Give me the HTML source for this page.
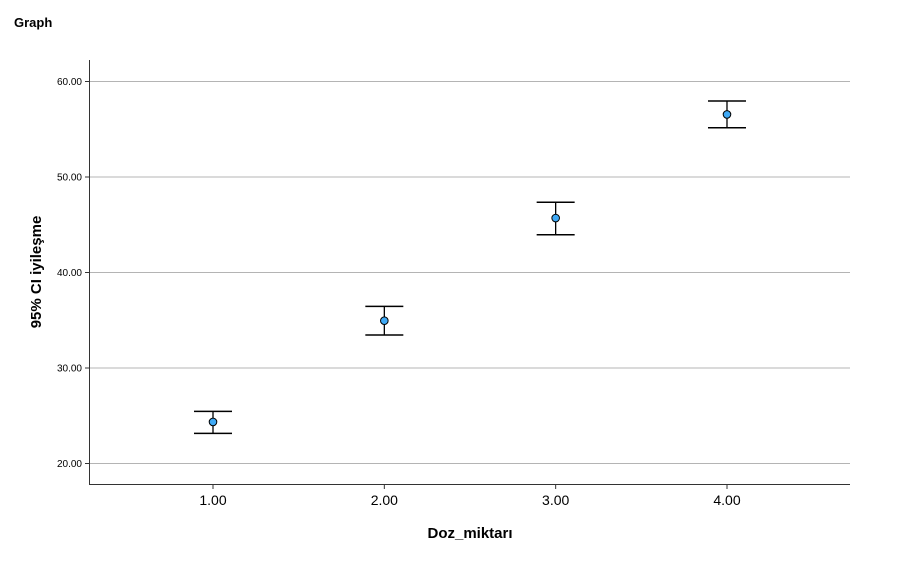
<!DOCTYPE html>
<html><head><meta charset="utf-8"><style>body{margin:0;background:#fff}svg{display:block;font-family:"Liberation Sans",sans-serif}</style></head>
<body>
<svg id="c" width="909" height="570">
<text x="14" y="27" font-size="13" font-weight="bold">Graph</text>
<g id="grid"></g><g id="marks"></g>
<line x1="89.5" y1="60" x2="89.5" y2="484.5" stroke="#333"/>
<line x1="89" y1="484.5" x2="850" y2="484.5" stroke="#333"/>
<text x="470" y="538" font-size="15" font-weight="bold" text-anchor="middle">Doz_miktarı</text>
<text transform="translate(41,272) rotate(-90)" font-size="15" font-weight="bold" text-anchor="middle">95% CI iyileşme</text>
</svg>
<script>
const categories=["1.00","2.00","3.00","4.00"];
const catValues=[1,2,3,4];
const means=[24.3,34.9,45.65,56.5];
const upper=[25.4,36.4,47.3,57.9];
const lower=[23.1,33.4,43.9,55.1];
const yTicks=[20,30,40,50,60];
const yLabels=["20.00","30.00","40.00","50.00","60.00"];
const NS="http://www.w3.org/2000/svg";
function x(v){return 213+(v-1)*171.33;}
function y(v){return 463-(v-20)*9.55;}
function mk(t,a,p){const e=document.createElementNS(NS,t);for(const k in a)e.setAttribute(k,a[k]);p.appendChild(e);return e;}
const g=document.getElementById('grid'),m=document.getElementById('marks');
yTicks.forEach((t,i)=>{
 const l=mk('line',{x1:89,x2:850,y1:y(t)+0.5,y2:y(t)+0.5,stroke:'#b4b4b4'},g);
 
 
 const tk=mk('line',{x1:85,x2:89,y1:y(t)+0.5,y2:y(t)+0.5,stroke:'#333'},g);
 
 
 const tx=mk('text',{x:82,y:y(t)+4,'font-size':10,'text-anchor':'end'},g);tx.textContent=yLabels[i];
 
 
});
categories.forEach((c,i)=>{
 const cx=x(catValues[i]);
 const tk=mk('line',{x1:cx,x2:cx,y1:484,y2:489,stroke:'#333'},g);
 
 
 const tx=mk('text',{x:cx,y:505,'font-size':14,'text-anchor':'middle'},g);tx.textContent=c;
 
 
 const gr=mk('g',{},m);
 
 
 mk('line',{x1:cx,x2:cx,y1:y(upper[i]),y2:y(lower[i]),stroke:'#000','stroke-width':1.3},gr);
 mk('line',{x1:cx-19,x2:cx+19,y1:y(upper[i]),y2:y(upper[i]),stroke:'#000','stroke-width':1.5},gr);
 mk('line',{x1:cx-19,x2:cx+19,y1:y(lower[i]),y2:y(lower[i]),stroke:'#000','stroke-width':1.5},gr);
 const p=mk('circle',{cx:cx,cy:y(means[i]),r:3.8,fill:'#3fa9f5',stroke:'#000','stroke-width':1},m);
 
 
});
</script>
</body></html>
